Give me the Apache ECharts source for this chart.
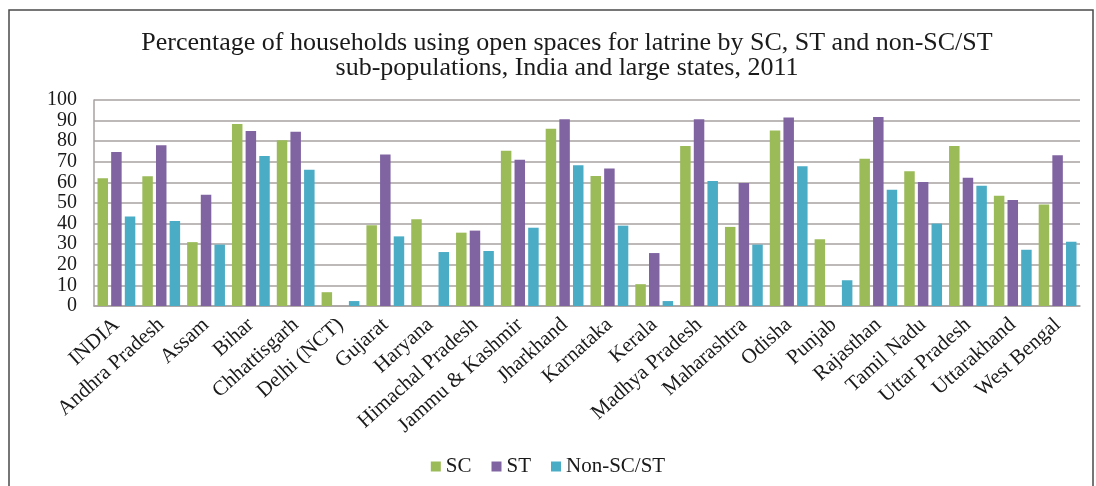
<!DOCTYPE html>
<html>
<head>
<meta charset="utf-8">
<script src="https://cdn.jsdelivr.net/npm/echarts@6/dist/echarts.min.js"></script>
<style>
  html, body { margin: 0; padding: 0; background: #fff; }
  #chart { width: 1096px; height: 486px; }
</style>
</head>
<body>
<div id="chart"></div>
<script>
// states along the x axis
const states = ['INDIA', 'Andhra Pradesh', 'Assam', 'Bihar', 'Chhattisgarh', 'Delhi (NCT)',
  'Gujarat', 'Haryana', 'Himachal Pradesh', 'Jammu & Kashmir', 'Jharkhand', 'Karnataka',
  'Kerala', 'Madhya Pradesh', 'Maharashtra', 'Odisha', 'Punjab', 'Rajasthan', 'Tamil Nadu',
  'Uttar Pradesh', 'Uttarakhand', 'West Bengal'];

// percentages
const scValues  = [62, 63, 31, 88.3, 80.5, 6.7, 39.2, 42.1, 35.6, 75.4, 86, 63.1, 10.6, 77.7, 38.4, 85.2, 32.4, 71.5, 65.4, 77.7, 53.5, 49.3];
const stValues  = [74.8, 78, 54, 85, 84.6, null, 73.5, null, 36.6, 71, 90.6, 66.8, 25.7, 90.7, 59.7, 91.5, null, 91.7, 60.2, 62.3, 51.5, 73.2];
const nonValues = [43.4, 41.3, 29.8, 72.8, 66.2, 2.4, 33.8, 26.2, 26.7, 38, 68.3, 39, 2.4, 60.7, 29.8, 67.8, 12.5, 56.4, 40, 58.4, 27.3, 31.2];

const seriesNames = ['SC', 'ST', 'Non-SC/ST'];
const colors = ['#9bbb59', '#8064a2', '#4bacc6'];

const serif = '"Liberation Serif", "DejaVu Serif", serif';

let chart = echarts.init(document.getElementById('chart'), null, { renderer: 'canvas' });

let options = {
  animation: false,
  color: colors,
  title: {
    text: 'Percentage of households using open spaces for latrine by SC, ST and non-SC/ST\nsub-populations, India and large states, 2011',
    left: 562,
    textAlign: 'center',
    top: 26,
    textStyle: { fontFamily: serif, fontWeight: 'normal', fontSize: 26, color: '#1a1a1a', lineHeight: 25 }
  },
  legend: {
    left: 'center',
    top: 451,
    itemWidth: 10,
    itemHeight: 10,
    itemGap: 20,
    icon: 'rect',
    textStyle: { fontFamily: serif, fontSize: 21, color: '#1a1a1a' },
    data: seriesNames
  },
  grid: { left: 94, right: 16, top: 100, bottom: 180, containLabel: false },
  xAxis: {
    type: 'category',
    data: states,
    axisTick: { show: false },
    axisLine: { lineStyle: { color: '#a9a2a2', width: 1.5 } },
    axisLabel: {
      rotate: 42, interval: 0, margin: 16,
      fontFamily: serif, fontSize: 21, color: '#1a1a1a'
    }
  },
  yAxis: {
    type: 'value',
    min: 0, max: 100, interval: 10,
    axisLine: { show: true, lineStyle: { color: '#a9a2a2', width: 1.5 } },
    axisTick: { show: false },
    splitLine: { lineStyle: { color: '#a9a2a2', width: 1.5 } },
    axisLabel: {
      margin: 17, fontFamily: serif, fontSize: 20, color: '#1a1a1a',
      showMinLabel: true, showMaxLabel: true, hideOverlap: false
    }
  },
  graphic: [{
    type: 'rect',
    shape: { x: 9, y: 10, width: 1084, height: 490 },
    style: { fill: null, stroke: '#4a4a4a', lineWidth: 1.5 },
    silent: true
  }],
  series: [
    { name: seriesNames[0], type: 'bar', data: scValues, barWidth: 10.5, barGap: '30%' },
    { name: seriesNames[1], type: 'bar', data: stValues, barWidth: 10.5, barGap: '30%' },
    { name: seriesNames[2], type: 'bar', data: nonValues, barWidth: 10.5, barGap: '30%' }
  ]
};

chart.setOption(options);
window.addEventListener('resize', chart.resize);
</script>
</body>
</html>
